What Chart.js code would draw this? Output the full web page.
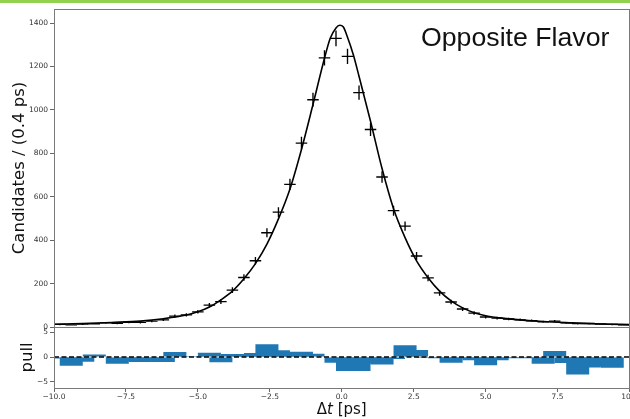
<!DOCTYPE html>
<html>
<head>
<meta charset="utf-8">
<script src="https://cdn.jsdelivr.net/npm/chart.js@4.4.1/dist/chart.umd.min.js"></script>
<style>
  html, body { margin: 0; padding: 0; background: #fff; width: 630px; height: 419px; overflow: hidden; }
  #band { position: absolute; left: 0; top: 0; width: 630px; height: 3px; background: #92d050; }
  canvas { position: absolute; left: 0; }
  #main { top: 0; }
  #pull { top: 320px; }
</style>
</head>
<body>
<div id="band"></div>
<canvas id="main" width="630" height="334"></canvas>
<canvas id="pull" width="630" height="99"></canvas>
<script>
// Decay-time histogram (0.4 ps bins), opposite-flavour sample
const binCenters = [-9.8, -9.4, -9.0, -8.6, -8.2, -7.8, -7.4, -7.0, -6.6, -6.2,
                    -5.8, -5.4, -5.0, -4.6, -4.2, -3.8, -3.4, -3.0, -2.6, -2.2,
                    -1.8, -1.4, -1.0, -0.6, -0.2, 0.2, 0.6, 1.0, 1.4, 1.8,
                    2.2, 2.6, 3.0, 3.4, 3.8, 4.2, 4.6, 5.0, 5.4, 5.8,
                    6.2, 6.6, 7.0, 7.4, 7.8, 8.2, 8.6, 9.0, 9.4, 9.8];
const counts = [12, 10, 13, 15, 19, 17, 22, 21, 27, 33,
                50, 56, 70, 101, 117, 170, 228, 305, 434, 529,
                657, 847, 1047, 1240, 1330, 1247, 1080, 910, 691, 536,
                465, 327, 226, 157, 115, 83, 64, 46, 41, 37,
                33, 29, 24, 27, 19, 16, 16, 14, 12, 10];
const pulls = [-0.3, -1.75, -0.95, 0.5, -0.1, -1.35, -0.8, -1.0, -0.9, -1.0,
               1.0, 0.05, 0.05, 0.85, -1.07, 0.6, 0.5, 0.8, 2.55, 1.34,
               0.9, 1.07, 0.67, -0.1, -1.14, -2.8, -2.8, -1.3, -1.5, -0.4,
               2.35, 1.4, -0.2, -0.27, -1.14, -0.3, -0.67, -1.68, -0.67, -0.2,
               -0.25, -0.2, -1.35, 1.2, -1.2, -3.5, -2.1, -1.9, -2.15, -0.1];
// Fitted model curve
const fitX = [-10, -9, -8, -7, -6.2, -5.4, -5.0, -4.6, -4.2, -3.8,
              -3.4, -3.0, -2.6, -2.2, -1.8, -1.4, -1.0, -0.6, -0.4, -0.2,
              -0.07, 0.05, 0.2, 0.4, 0.6, 1.0, 1.4, 1.8, 2.2, 2.6,
              3.0, 3.4, 3.8, 4.2, 4.6, 5.0, 5.5, 6.0, 7.0, 8.0, 9.0, 10];
const fitY = [13, 16, 21, 27, 38, 55, 70, 92, 125, 165,
              222, 292, 382, 498, 636, 818, 1025, 1238, 1330, 1378,
              1390, 1383, 1335, 1255, 1155, 948, 730, 545, 412, 305,
              227, 165, 120, 88, 66, 52, 42, 35, 25, 19, 14, 11];
const binWidth = 0.4;
const countTicks = [0, 200, 400, 600, 800, 1000, 1200, 1400];
const pullTicks = [-5, 0, 5];
const pullTickLabels = ['\u22125', '0', '5'];
const dtTicks = [-10, -7.5, -5, -2.5, 0, 2.5, 5, 7.5, 10];
const dtTickLabels = ['\u221210.0', '\u22127.5', '\u22125.0', '\u22122.5', '0.0', '2.5', '5.0', '7.5', '10.0'];

Chart.defaults.font.family = "'DejaVu Sans', sans-serif";
Chart.defaults.color = '#333';

const tickFont = { size: 7.5 };
const SPINE = '#7a7a7a';

// box around the plotting area (all four spines)
const framePlugin = {
  id: 'frame',
  afterDraw(chart) {
    const { ctx, chartArea: a } = chart;
    const l = Math.floor(a.left) + 0.5, r = Math.floor(a.right) + 0.5;
    const t = Math.floor(a.top) + 0.5, b = Math.floor(a.bottom) + 0.5;
    ctx.save();
    ctx.strokeStyle = SPINE;
    ctx.lineWidth = 1;
    ctx.strokeRect(l, t, r - l, b - t);
    ctx.restore();
  }
};

function fixedYAxis(width) {
  return (s) => { s.width = width; s.paddingTop = 0; s.paddingBottom = 0; };
}

// data points drawn as crosses: bin width horizontally, Poisson uncertainty vertically
const errorBarPlugin = {
  id: 'errorBars',
  afterDatasetsDraw(chart) {
    const { ctx, chartArea: a } = chart;
    const xs = chart.scales.x, ys = chart.scales.y;
    const pts = chart.data.datasets[1].data;
    ctx.save();
    ctx.beginPath();
    ctx.rect(a.left, a.top, a.right - a.left, a.bottom - a.top);
    ctx.clip();
    ctx.strokeStyle = '#000';
    ctx.lineWidth = 1.35;
    ctx.beginPath();
    pts.forEach(p => {
      const err = Math.sqrt(p.y);
      const px = xs.getPixelForValue(p.x), py = ys.getPixelForValue(p.y);
      ctx.moveTo(xs.getPixelForValue(p.x - binWidth / 2), py);
      ctx.lineTo(xs.getPixelForValue(p.x + binWidth / 2), py);
      ctx.moveTo(px, ys.getPixelForValue(p.y - err));
      ctx.lineTo(px, ys.getPixelForValue(p.y + err));
    });
    ctx.stroke();
    ctx.restore();
  }
};

const labelPlugin = {
  id: 'sampleLabel',
  afterDraw(chart) {
    const ctx = chart.ctx;
    ctx.save();
    ctx.font = "26.7px 'Liberation Sans', Arial, sans-serif";
    ctx.fillStyle = '#111';
    ctx.textBaseline = 'alphabetic';
    ctx.textAlign = 'left';
    ctx.fillText('Opposite Flavor', 421, 45.5);
    ctx.restore();
  }
};

new Chart(document.getElementById('main'), {
  type: 'scatter',
  data: {
    datasets: [
      {
        label: 'fit',
        data: fitX.map((x, i) => ({ x, y: fitY[i] })),
        showLine: true,
        borderColor: '#000',
        borderWidth: 1.6,
        pointRadius: 0,
        cubicInterpolationMode: 'monotone'
      },
      {
        label: 'data',
        data: binCenters.map((x, i) => ({ x, y: counts[i] })),
        pointRadius: 0,
        showLine: false
      }
    ]
  },
  options: {
    responsive: false,
    animation: false,
    events: [],
    layout: { padding: { top: 9, right: 0.5, bottom: 7, left: 0 } },
    plugins: { legend: { display: false }, tooltip: { enabled: false } },
    scales: {
      x: {
        type: 'linear', min: -10, max: 10, display: false,
        afterFit: (s) => { s.paddingLeft = 0; s.paddingRight = 0; }
      },
      y: {
        type: 'linear', min: 0, max: 1465,
        afterBuildTicks: (s) => { s.ticks = countTicks.map(v => ({ value: v })); },
        afterFit: fixedYAxis(54),
        border: { display: false },
        grid: { drawOnChartArea: false, drawTicks: true, tickLength: 4, tickColor: '#666', tickWidth: 1 },
        ticks: { font: tickFont, padding: 2, autoSkip: false, callback: (v) => String(v) },
        title: {
          display: true, text: 'Candidates / (0.4 ps)', color: '#111',
          font: { size: 16.5 }, padding: { top: 10, bottom: 0 }
        }
      }
    }
  },
  plugins: [errorBarPlugin, framePlugin, labelPlugin]
});

// x-axis title with italic t
const xTitlePlugin = {
  id: 'xTitle',
  afterDraw(chart) {
    const { ctx, chartArea: a } = chart;
    const parts = [['\u0394', ''], ['t', 'italic '], [' [ps]', '']];
    ctx.save();
    ctx.fillStyle = '#111';
    ctx.textBaseline = 'middle';
    ctx.textAlign = 'left';
    let total = 0;
    parts.forEach(([txt, st]) => { ctx.font = st + "15px 'DejaVu Sans', sans-serif"; total += ctx.measureText(txt).width; });
    let x = (a.left + a.right) / 2 - total / 2;
    parts.forEach(([txt, st]) => {
      ctx.font = st + "15px 'DejaVu Sans', sans-serif";
      ctx.fillText(txt, x, 90.5);
      x += ctx.measureText(txt).width;
    });
    ctx.restore();
  }
};

new Chart(document.getElementById('pull'), {
  type: 'bar',
  data: {
    datasets: [
      {
        type: 'line',
        label: 'zero',
        data: [{ x: -10, y: 0 }, { x: 10, y: 0 }],
        borderColor: '#000',
        borderWidth: 1.5,
        borderDash: [5, 2.5],
        pointRadius: 0
      },
      {
        type: 'bar',
        label: 'pull',
        data: binCenters.map((x, i) => ({ x, y: pulls[i] })),
        backgroundColor: '#1f77b4',
        borderWidth: 0,
        categoryPercentage: 1,
        barPercentage: 2,
        clip: 0
      }
    ]
  },
  options: {
    responsive: false,
    animation: false,
    events: [],
    layout: { padding: { top: 7, right: 0.5, bottom: 0, left: 0 } },
    plugins: { legend: { display: false }, tooltip: { enabled: false } },
    scales: {
      x: {
        type: 'linear', min: -10, max: 10, offset: false,
        afterBuildTicks: (s) => { s.ticks = dtTicks.map(v => ({ value: v })); },
        afterFit: (s) => { s.height = 31; s.paddingLeft = 0; s.paddingRight = 0; },
        border: { display: false },
        grid: { offset: false, drawOnChartArea: false, drawTicks: true, tickLength: 4, tickColor: '#666', tickWidth: 1 },
        ticks: { font: tickFont, padding: 1, autoSkip: false, maxRotation: 0, callback: (v, i) => dtTickLabels[i] }
      },
      y: {
        type: 'linear', min: -6.24, max: 6.04,
        afterBuildTicks: (s) => { s.ticks = pullTicks.map(v => ({ value: v })); },
        afterFit: fixedYAxis(54),
        border: { display: false },
        grid: { drawOnChartArea: false, drawTicks: true, tickLength: 4, tickColor: '#666', tickWidth: 1 },
        ticks: { font: tickFont, padding: 2, autoSkip: false, callback: (v, i) => pullTickLabels[i] },
        title: {
          display: true, text: 'pull', color: '#111',
          font: { size: 16.5 }, padding: { top: 18, bottom: 0 }
        }
      }
    }
  },
  plugins: [framePlugin, xTitlePlugin]
});
</script>
</body>
</html>
